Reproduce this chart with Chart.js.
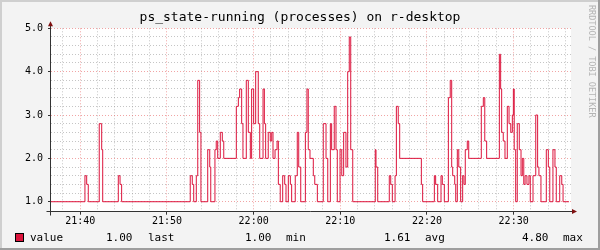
<!DOCTYPE html>
<html>
<head>
<meta charset="utf-8">
<script src="https://cdn.jsdelivr.net/npm/chart.js@4/dist/chart.umd.min.js"></script>
<style>
  html, body { margin: 0; padding: 0; background: #f3f3f3; }
  canvas { display: block; }
</style>
</head>
<body>
<canvas id="chartRrd" width="600" height="250"></canvas>
<script>
// graphique rrdtool ps_state-running, redessiné avec Chart.js

const titre = 'ps_state-running (processes) on r-desktop';

// points de changement (heure, valeur) - la valeur tient jusqu'au point suivant
const heures = [
  '21:36:37','21:40:32','21:40:44','21:40:55','21:42:11','21:42:28','21:42:35','21:44:23','21:44:35','21:44:46',
  '21:52:41','21:52:55','21:53:05','21:53:23','21:53:33','21:53:46','21:53:55','21:54:42','21:54:56','21:55:03',
  '21:55:32','21:55:41','21:55:51','21:56:09','21:56:23','21:56:33','21:58:00','21:58:14','21:58:23','21:58:37',
  '21:58:46','21:59:09','21:59:23','21:59:37','21:59:46','22:00:00','22:00:14','22:00:32','22:00:42','22:01:05',
  '22:01:14','22:01:23','22:01:41','22:01:55','22:02:05','22:02:14','22:02:28','22:02:42','22:02:51','22:03:04',
  '22:03:21','22:03:35','22:03:44','22:04:00','22:04:14','22:04:23','22:04:48','22:05:02','22:05:12','22:05:26',
  '22:05:58','22:06:09','22:06:18','22:06:30','22:06:53','22:07:03','22:07:21','22:08:02','22:08:21','22:08:33',
  '22:08:51','22:09:00','22:09:18','22:09:30','22:09:39','22:09:58','22:10:10','22:10:23','22:10:39','22:10:51',
  '22:11:02','22:11:12','22:11:26','22:14:02','22:14:07','22:14:19','22:15:39','22:15:49','22:16:00','22:16:19',
  '22:16:28','22:16:41','22:16:51','22:19:21','22:19:30','22:20:51','22:21:00','22:21:14','22:21:37','22:21:46',
  '22:22:00','22:22:28','22:22:41','22:22:51','22:22:58','22:23:12','22:23:19','22:23:30','22:23:40','22:23:53',
  '22:24:07','22:24:16','22:24:25','22:24:39','22:24:49','22:26:16','22:26:30','22:26:40','22:26:53','22:28:21',
  '22:28:30','22:28:37','22:28:48','22:29:00','22:29:16','22:29:28','22:29:40','22:29:51','22:29:58','22:30:04',
  '22:30:14','22:30:25','22:30:39','22:30:51','22:31:00','22:31:10','22:31:19','22:31:32','22:31:46','22:31:55',
  '22:32:14','22:32:33','22:32:46','22:32:55','22:33:09','22:33:46','22:34:00','22:34:10','22:34:32','22:34:46',
  '22:34:55','22:35:19','22:35:33','22:35:42','22:36:23'
];
const valeurs = [
  1.0, 1.6, 1.4, 1.0, 2.8, 2.2, 1.0, 1.6, 1.4, 1.0,
  1.6, 1.4, 1.0, 1.6, 3.8, 2.6, 1.0, 2.2, 1.8, 1.0,
  2.2, 2.4, 2.0, 2.6, 2.4, 2.0, 3.2, 3.4, 3.6, 2.8,
  2.0, 3.8, 2.6, 2.0, 3.6, 2.8, 4.0, 2.8, 2.0, 3.6,
  2.8, 2.0, 2.6, 2.4, 2.6, 2.0, 2.2, 2.4, 1.4, 1.0,
  1.6, 1.4, 1.0, 1.6, 1.4, 1.0, 1.6, 2.6, 1.8, 1.0,
  2.6, 3.6, 2.2, 2.0, 1.6, 1.4, 1.0, 2.8, 2.0, 1.0,
  2.8, 2.2, 3.2, 2.2, 1.0, 2.2, 1.6, 2.6, 1.8, 4.0,
  4.8, 2.2, 1.0, 2.2, 1.8, 1.0, 1.6, 1.4, 1.0, 1.6,
  3.2, 2.8, 2.0, 1.4, 1.0, 1.6, 1.4, 1.0, 1.6, 1.4,
  1.0, 3.4, 3.8, 1.8, 1.6, 1.4, 1.0, 2.2, 1.8, 1.0,
  1.6, 1.4, 2.2, 2.4, 2.0, 3.2, 3.4, 2.4, 2.0, 4.4,
  3.6, 2.6, 2.4, 2.0, 3.2, 2.8, 2.6, 3.0, 3.6, 2.2,
  1.0, 2.8, 2.2, 1.6, 2.0, 1.4, 1.6, 1.4, 1.6, 1.0,
  1.6, 3.0, 1.8, 1.6, 1.0, 2.2, 1.8, 1.0, 2.2, 1.8,
  1.0, 1.6, 1.4, 1.0, 1.0
];

// graduations
const xLabels = ['21:40', '21:50', '22:00', '22:10', '22:20', '22:30'];
const yLabels = ['1.0', '2.0', '3.0', '4.0', '5.0'];

// légende : valeur puis libellé
const legendeNom = 'value';
const legendeStats = ['last', 'min', 'avg', 'max'];
const legendeValeurs = ['1.00', '1.00', '1.61', '4.80'];

const debut = '21:36:37'; // bord gauche du graphe, 1 heure affichée

//utilitaires//
const enSec = h => {
  const p = h.split(':').map(Number);
  return p[0] * 3600 + p[1] * 60 + (p[2] || 0);
};
const xMin = enSec(debut);
const xMax = xMin + 3600;
const xMajeurs = xLabels.map(enSec);
const yMajeurs = yLabels.map(Number);

const xTicks = [];
for (let s = Math.ceil(xMin / 120) * 120; s <= xMax; s += 120) xTicks.push(s);
const yTicks = [];
yMajeurs.forEach((v, i) => {
  for (let k = 0; k < 5; k++) {
    if (i === yMajeurs.length - 1 && k > 0) break;
    yTicks.push(Math.round((v + k * 0.2) * 10) / 10);
  }
});

const estMajX = v => xMajeurs.includes(v);
const estMajY = v => yMajeurs.includes(v);

const ROUGE_GRILLE = 'rgba(230, 90, 90, 0.55)';
const GRIS_GRILLE = 'rgba(150, 150, 150, 0.55)';
const POLICE = 'DejaVu Sans Mono';

//décor rrdtool : fond, cadre, axes, titre, légende//
const decorRrd = {
  id: 'decorRrd',
  beforeDraw(chart) {
    const { ctx, chartArea: a, width: w, height: h } = chart;
    ctx.save();
    ctx.fillStyle = '#f3f3f3';
    ctx.fillRect(0, 0, w, h);
    ctx.fillStyle = '#cfcfcf';
    ctx.fillRect(0, 0, w, 2);
    ctx.fillRect(0, 0, 2, h);
    ctx.fillStyle = '#9e9e9e';
    ctx.fillRect(0, h - 2, w, 2);
    ctx.fillRect(w - 2, 0, 2, h);
    ctx.fillStyle = '#ffffff';
    ctx.fillRect(a.left, a.top, a.right - a.left, a.bottom - a.top);
    ctx.restore();
  },
  afterDatasetsDraw(chart) {
    const { ctx, chartArea: a } = chart;
    const x0 = Math.round(a.left) - 0.5;
    const y0 = Math.round(a.bottom) - 0.5;
    ctx.save();
    ctx.strokeStyle = '#333';
    ctx.lineWidth = 1;
    ctx.beginPath();
    ctx.moveTo(x0 - 4, y0); ctx.lineTo(a.right + 3, y0);
    ctx.moveTo(x0, y0 + 4); ctx.lineTo(x0, a.top - 4);
    ctx.stroke();
    // flèches
    ctx.fillStyle = '#7f1010';
    ctx.beginPath();
    ctx.moveTo(x0 - 2.5, a.top - 2); ctx.lineTo(x0 + 2.5, a.top - 2); ctx.lineTo(x0, a.top - 7);
    ctx.closePath(); ctx.fill();
    ctx.beginPath();
    ctx.moveTo(a.right + 1, y0 - 2.5); ctx.lineTo(a.right + 1, y0 + 2.5); ctx.lineTo(a.right + 6, y0);
    ctx.closePath(); ctx.fill();
    ctx.restore();
  },
  afterDraw(chart) {
    const { ctx, width: w } = chart;
    ctx.save();
    ctx.fillStyle = '#000';
    ctx.textBaseline = 'middle';
    ctx.textAlign = 'center';
    ctx.font = '13px "' + POLICE + '"';
    ctx.fillText(titre, w / 2, 18);

    // légende
    const yL = 238;
    ctx.fillStyle = '#dc143c';
    ctx.fillRect(15, 233, 9, 9);
    ctx.strokeStyle = '#000';
    ctx.lineWidth = 1;
    ctx.strokeRect(15.5, 233.5, 8, 8);
    ctx.fillStyle = '#000';
    ctx.font = '11px "' + POLICE + '"';
    ctx.textAlign = 'left';
    ctx.fillText(legendeNom, 30, yL);
    const xVal = [106, 245, 384, 522];
    const xLib = [148, 286, 425, 563];
    legendeStats.forEach((lib, i) => {
      ctx.fillText(legendeValeurs[i], xVal[i], yL);
      ctx.fillText(lib, xLib[i], yL);
    });

    // filigrane vertical
    ctx.translate(591, 5);
    ctx.rotate(Math.PI / 2);
    ctx.fillStyle = '#b4b4b4';
    ctx.font = '8.5px "' + POLICE + '"';
    ctx.textAlign = 'left';
    ctx.fillText('RRDTOOL / TOBI OETIKER', 0, 0);
    ctx.restore();
  }
};

new Chart(document.getElementById('chartRrd').getContext('2d'), {
  type: 'line',
  data: {
    datasets: [{
      label: legendeNom,
      data: heures.map((h, i) => ({ x: enSec(h), y: valeurs[i] })),
      borderColor: '#dc143c',
      borderWidth: 1,
      stepped: true,
      fill: false,
      pointRadius: 0,
    }]
  },
  options: {
    responsive: false,
    animation: false,
    devicePixelRatio: 1,
    layout: { padding: { top: 28.3, right: 29, left: 0, bottom: 0 } },
    plugins: { legend: { display: false }, tooltip: { enabled: false } },
    scales: {
      x: {
        type: 'linear',
        min: xMin,
        max: xMax,
        afterBuildTicks: s => { s.ticks = xTicks.map(v => ({ value: v })); },
        afterFit: s => { s.height = 38.3; },
        grid: {
          color: c => estMajX(c.tick.value) ? ROUGE_GRILLE : GRIS_GRILLE,
          borderDash: [1, 2],
          tickLength: 3,
          tickColor: c => estMajX(c.tick.value) ? '#333' : 'rgba(0,0,0,0)',
          tickBorderDash: [],
        },
        border: { display: false, dash: [1, 2] },
        ticks: {
          autoSkip: false,
          maxRotation: 0,
          padding: 1,
          color: '#000',
          font: { family: POLICE, size: 10 },
          callback: v => {
            const i = xMajeurs.indexOf(v);
            return i >= 0 ? xLabels[i] : '';
          }
        }
      },
      y: {
        type: 'linear',
        min: 0.77,
        max: 5.0,
        afterBuildTicks: s => { s.ticks = yTicks.map(v => ({ value: v })); },
        afterFit: s => { s.width = 51; },
        grid: {
          color: c => estMajY(c.tick.value) ? ROUGE_GRILLE : GRIS_GRILLE,
          borderDash: [1, 2],
          tickLength: 3,
          tickColor: c => estMajY(c.tick.value) ? '#333' : 'rgba(0,0,0,0)',
          tickBorderDash: [],
        },
        border: { display: false, dash: [1, 2] },
        ticks: {
          autoSkip: false,
          padding: 5,
          color: '#000',
          font: { family: POLICE, size: 10 },
          callback: v => {
            const i = yMajeurs.indexOf(v);
            return i >= 0 ? yLabels[i] : '';
          }
        }
      }
    }
  },
  plugins: [decorRrd]
});
</script>
</body>
</html>
